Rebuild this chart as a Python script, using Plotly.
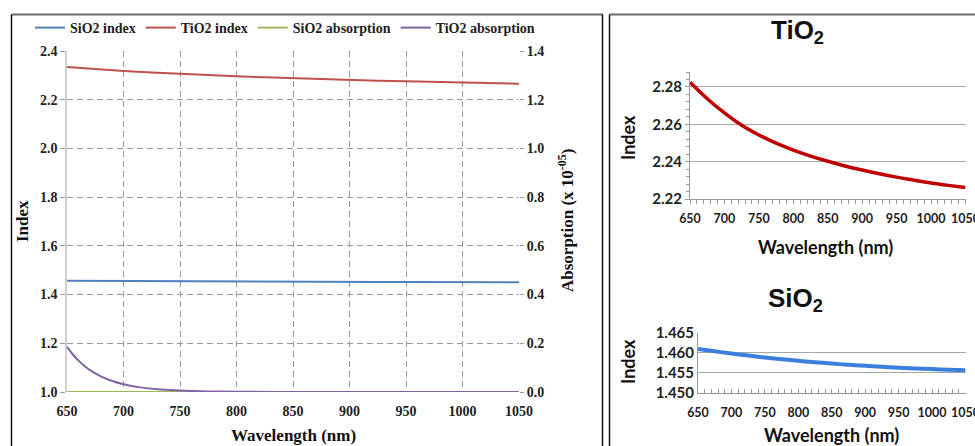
import plotly.graph_objects as go

W, H = 975, 446

# ---- data: combined dispersion / absorption chart ----
wl = [650, 675, 700, 725, 750, 775, 800, 825, 850, 875, 900, 925, 950, 975, 1000, 1025, 1050]
sio2_index = [1.4570, 1.4563, 1.4557, 1.4551, 1.4546, 1.4541, 1.4537, 1.4533, 1.4529,
              1.4526, 1.4523, 1.4520, 1.4518, 1.4516, 1.4514, 1.4512, 1.4510]
tio2_index = [2.334, 2.325, 2.318, 2.312, 2.306, 2.301, 2.296, 2.292, 2.288,
              2.284, 2.281, 2.278, 2.276, 2.273, 2.271, 2.268, 2.266]
sio2_abs = [0.0] * len(wl)
wl_abs = [650, 655, 660, 665, 670, 680, 690, 700, 715, 730, 750, 775, 800, 850, 900, 950, 1000, 1050]
tio2_abs = [0.185, 0.155, 0.130, 0.109, 0.091, 0.064, 0.045, 0.032, 0.019, 0.011,
            0.006, 0.0025, 0.001, 0.0002, 0.0, 0.0, 0.0, 0.0]

# ---- data: detail panels ----
tio2_detail = [2.2825, 2.2737, 2.2661, 2.2595, 2.2543, 2.2499, 2.2462, 2.2430, 2.2402,
               2.2377, 2.2355, 2.2335, 2.2317, 2.2301, 2.2286, 2.2273, 2.2261]
sio2_detail = [1.46100, 1.46040, 1.45984, 1.45932, 1.45884, 1.45840, 1.45800, 1.45764,
               1.45731, 1.45701, 1.45674, 1.45650, 1.45629, 1.45610, 1.45593, 1.45578,
               1.45565]


def px(x):
    return x / W


def py(y):
    return 1 - y / H


SERIF = "Liberation Serif"
SANS = "Lato"
HEAD = "Liberation Sans"

fig = go.Figure()

fig.add_trace(go.Scatter(x=wl, y=sio2_index, name="SiO2 index", mode="lines",
                         line=dict(color="#4f81bd", width=2), xaxis="x", yaxis="y"))
fig.add_trace(go.Scatter(x=wl, y=tio2_index, name="TiO2 index", mode="lines",
                         line=dict(color="#c0504d", width=2), xaxis="x", yaxis="y"))
fig.add_trace(go.Scatter(x=wl, y=sio2_abs, name="SiO2 absorption", mode="lines",
                         line=dict(color="#9bbb59", width=2), xaxis="x", yaxis="y2"))
fig.add_trace(go.Scatter(x=wl_abs, y=tio2_abs, name="TiO2 absorption", mode="lines",
                         line=dict(color="#8064a2", width=2, shape="spline"),
                         xaxis="x", yaxis="y2"))

fig.add_trace(go.Scatter(x=wl, y=tio2_detail, mode="lines", showlegend=False,
                         line=dict(color="#c00000", width=3.5, shape="spline"),
                         xaxis="x3", yaxis="y3"))
fig.add_trace(go.Scatter(x=wl, y=sio2_detail, mode="lines", showlegend=False,
                         line=dict(color="#3a7fde", width=4, shape="spline"),
                         xaxis="x4", yaxis="y4"))

serif_tick = dict(family=SERIF, size=14, color="#222", weight="bold")
sans_tick_x = dict(family=SANS, size=12.5, color="#222", weight="bold")
sans_tick_y = dict(family=SANS, size=15, color="#222", weight="bold")
dash_grid = dict(showgrid=True, gridcolor="#9a9a9a", griddash="6px,4px", gridwidth=1)

fig.update_layout(
    width=W, height=H,
    margin=dict(l=0, r=0, t=0, b=0, autoexpand=False),
    paper_bgcolor="white", plot_bgcolor="rgba(0,0,0,0)",
    showlegend=True,
    legend=dict(orientation="h", x=px(30), y=py(12), xanchor="left", yanchor="top",
                font=dict(family=SERIF, size=14, color="#222", weight="bold"),
                bgcolor="rgba(0,0,0,0)", itemwidth=30),
    xaxis=dict(domain=[px(67), px(519)], anchor="y", range=[650, 1050], dtick=50,
               tickfont=serif_tick, ticks="", ticklabelstandoff=9, automargin=False,
               showline=False, zeroline=False, **dash_grid),
    yaxis=dict(domain=[py(392), py(51)], anchor="x", range=[1.0, 2.4], dtick=0.2,
               tickformat=".1f", tickfont=serif_tick, ticks="outside", ticklen=5,
               tickcolor="#9a9a9a", showline=True, linecolor="#d0d0d0", linewidth=1.5,
               zeroline=False, automargin=False, **dash_grid),
    yaxis2=dict(anchor="x", overlaying="y", side="right", range=[0.0, 1.4], dtick=0.2,
                tickformat=".1f", tickfont=serif_tick, ticks="outside", ticklen=4,
                tickcolor="#9a9a9a", showgrid=False, showline=False, zeroline=False,
                automargin=False),
    xaxis3=dict(domain=[px(690), px(965.5)], anchor="y3", range=[650, 1050], dtick=50,
                tickfont=sans_tick_x, ticks="outside", ticklen=4, tickcolor="#999",
                minor=dict(dtick=10, ticks="outside", ticklen=4, tickcolor="#999"),
                showline=True, linecolor="#999", linewidth=1, showgrid=False,
                zeroline=False, ticklabelstandoff=4, automargin=False,
                ticklabeloverflow="allow"),
    yaxis3=dict(domain=[py(199), py(72)], anchor="x3", range=[2.22, 2.288],
                tickvals=[2.22, 2.24, 2.26, 2.28], tickformat=".2f",
                tickfont=sans_tick_y, ticks="outside", ticklen=4, tickcolor="#999",
                minor=dict(dtick=0.004, tick0=2.22, ticks="outside", ticklen=3,
                           tickcolor="#999", showgrid=False),
                showline=True, linecolor="#999", linewidth=1, automargin=False,
                showgrid=True, gridcolor="#a6a6a6", gridwidth=1, zeroline=False),
    xaxis4=dict(domain=[px(698), px(965.5)], anchor="y4", range=[650, 1050], dtick=50,
                tickfont=sans_tick_x, ticks="inside", ticklen=4, tickcolor="#999",
                minor=dict(dtick=10, ticks="inside", ticklen=4, tickcolor="#999"),
                showline=True, linecolor="#999", linewidth=1, showgrid=False,
                zeroline=False, ticklabelstandoff=8, automargin=False,
                ticklabeloverflow="allow"),
    yaxis4=dict(domain=[py(392.7), py(333)], anchor="x4", range=[1.45, 1.465],
                dtick=0.005, tickformat=".3f", tickfont=sans_tick_y, ticks="",
                showline=True, linecolor="#999", linewidth=1, automargin=False,
                showgrid=True, gridcolor="#a6a6a6", gridwidth=1, zeroline=False),
)

# panel frames
frame_shapes = [
    dict(x0=px(11.5), x1=px(603), y0=py(14.5), y1=py(14.5), color="#6e6e6e", w=2),
    dict(x0=px(11.5), x1=px(11.5), y0=py(14.5), y1=py(450), color="#111", w=1.5),
    dict(x0=px(602.5), x1=px(602.5), y0=py(14.5), y1=py(450), color="#111", w=1.5),
    dict(x0=px(609.5), x1=px(980), y0=py(14.5), y1=py(14.5), color="#6e6e6e", w=2),
    dict(x0=px(609.5), x1=px(609.5), y0=py(14.5), y1=py(450), color="#111", w=1.5),
]
for s in frame_shapes:
    fig.add_shape(type="line", xref="paper", yref="paper", x0=s["x0"], x1=s["x1"],
                  y0=s["y0"], y1=s["y1"], line=dict(color=s["color"], width=s["w"]))

serif_title = dict(family=SERIF, size=17, color="#111", weight="bold")
sans_title = dict(family=SANS, size=18, color="#111", weight="bold")
head_font = dict(family=HEAD, size=26, color="#111", weight="bold")

labels = [
    ("Index", 22, 221, -90, serif_title),
    ("Wavelength (nm)", 293, 435, 0, serif_title),
    ("Absorption (x 10<sup>-05</sup>)", 566, 221, -90, serif_title),
    ("TiO<sub>2</sub>", 797, 32, 0, head_font),
    ("Index", 628, 138, -90, sans_title),
    ("Wavelength (nm)", 825, 247, 0, sans_title),
    ("SiO<sub>2</sub>", 795, 299, 0, head_font),
    ("Index", 628, 362, -90, sans_title),
    ("Wavelength (nm)", 831, 435, 0, sans_title),
]
for text, x, y, ang, f in labels:
    fig.add_annotation(text=text, xref="paper", yref="paper", x=px(x), y=py(y),
                       xanchor="center", yanchor="middle", textangle=ang,
                       showarrow=False, font=f)

fig.write_html("out.html")
